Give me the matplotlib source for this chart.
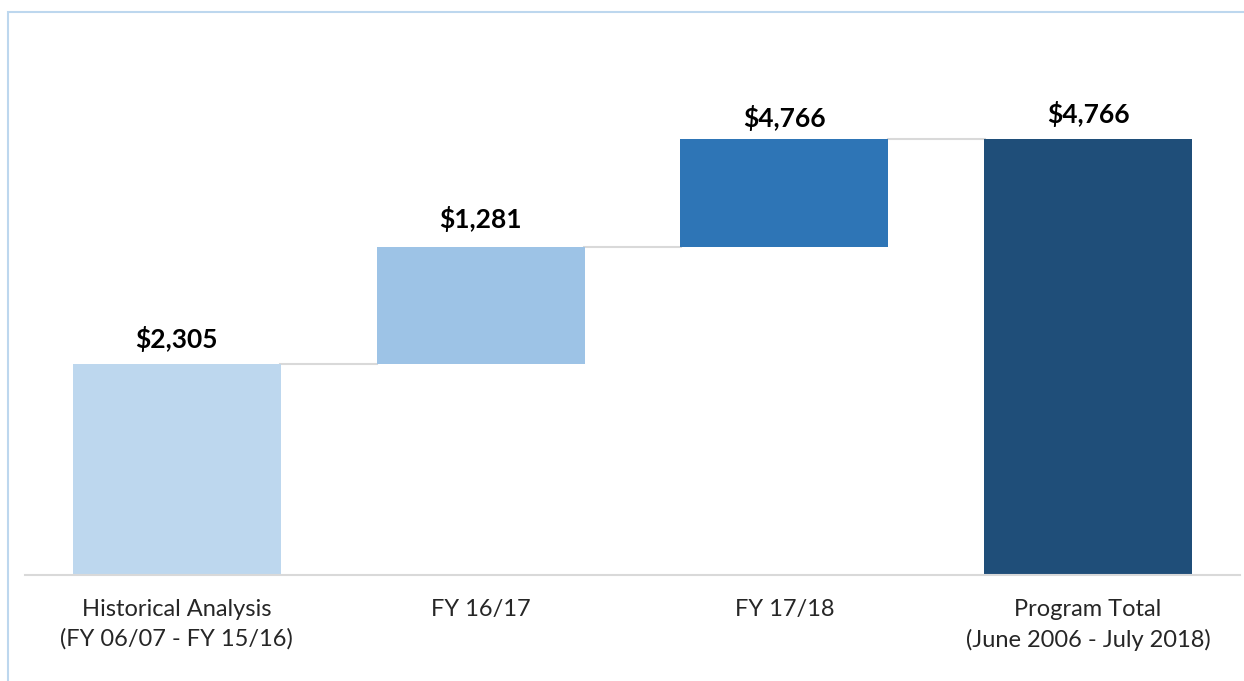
import matplotlib
matplotlib.use("Agg")
from matplotlib import pyplot as plt
from matplotlib.patches import Rectangle
import numpy as np

plt.rcParams['font.family'] = ['Lato', 'DejaVu Sans']

categories = ["Historical Analysis\n(FY 06/07 - FY 15/16)", "FY 16/17", "FY 17/18",
              "Program Total\n(June 2006 - July 2018)"]
steps = [2305, 1281, 1180]
total = 4766
value_labels = ["$2,305", "$1,281", "$4,766", "$4,766"]
colors = ["#BDD7EE", "#9DC3E6", "#2E75B6", "#1F4E79"]

bottoms = [0] + list(np.cumsum(steps)[:-1]) + [0]
heights = steps + [total]
tops = [b + h for b, h in zip(bottoms, heights)]

fig = plt.figure(figsize=(12.44, 6.81), dpi=100)
# frame around the chart
fig.patches.append(Rectangle((8 / 1244, -0.01), 1.0, 1 - 12 / 681 + 0.01,
                             transform=fig.transFigure, fill=False,
                             edgecolor="#BDD7EE", linewidth=1.5))

ax = fig.add_axes([25 / 1244, 1 - 575 / 681, 1215 / 1244, 503 / 681])
x = np.arange(len(categories))
ax.bar(x, heights, bottom=bottoms, width=0.685, color=colors, edgecolor="none", zorder=2)

# connector lines
for i in range(len(categories) - 1):
    ax.plot([x[i] + 0.34, x[i + 1] - 0.34], [tops[i], tops[i]],
            color="#D9D9D9", linewidth=1.5, zorder=1)

offsets = [9, 11, 6, 9]
for i, lab in enumerate(value_labels):
    kw = {}
    if i == 2:
        kw = dict(bbox=dict(boxstyle="square,pad=0.25", fc="white", ec="none"))
    ax.annotate(lab, (x[i], tops[i]), xytext=(0, offsets[i]), textcoords="offset points",
                ha="center", va="bottom", fontsize=19, fontweight="bold",
                color="black", zorder=3, **kw)

ax.set_xlim(-0.5, 3.5)
ax.set_ylim(0, 5500)
ax.set_xticks(x)
ax.set_xticklabels(categories, fontsize=17, color="#262626", linespacing=1.5)
ax.tick_params(axis="x", length=0, pad=17)
ax.set_yticks([])
for s in ["top", "right", "left"]:
    ax.spines[s].set_visible(False)
ax.spines["bottom"].set_color("#D9D9D9")
ax.spines["bottom"].set_linewidth(1.5)

fig.savefig("out.png", dpi=100)
